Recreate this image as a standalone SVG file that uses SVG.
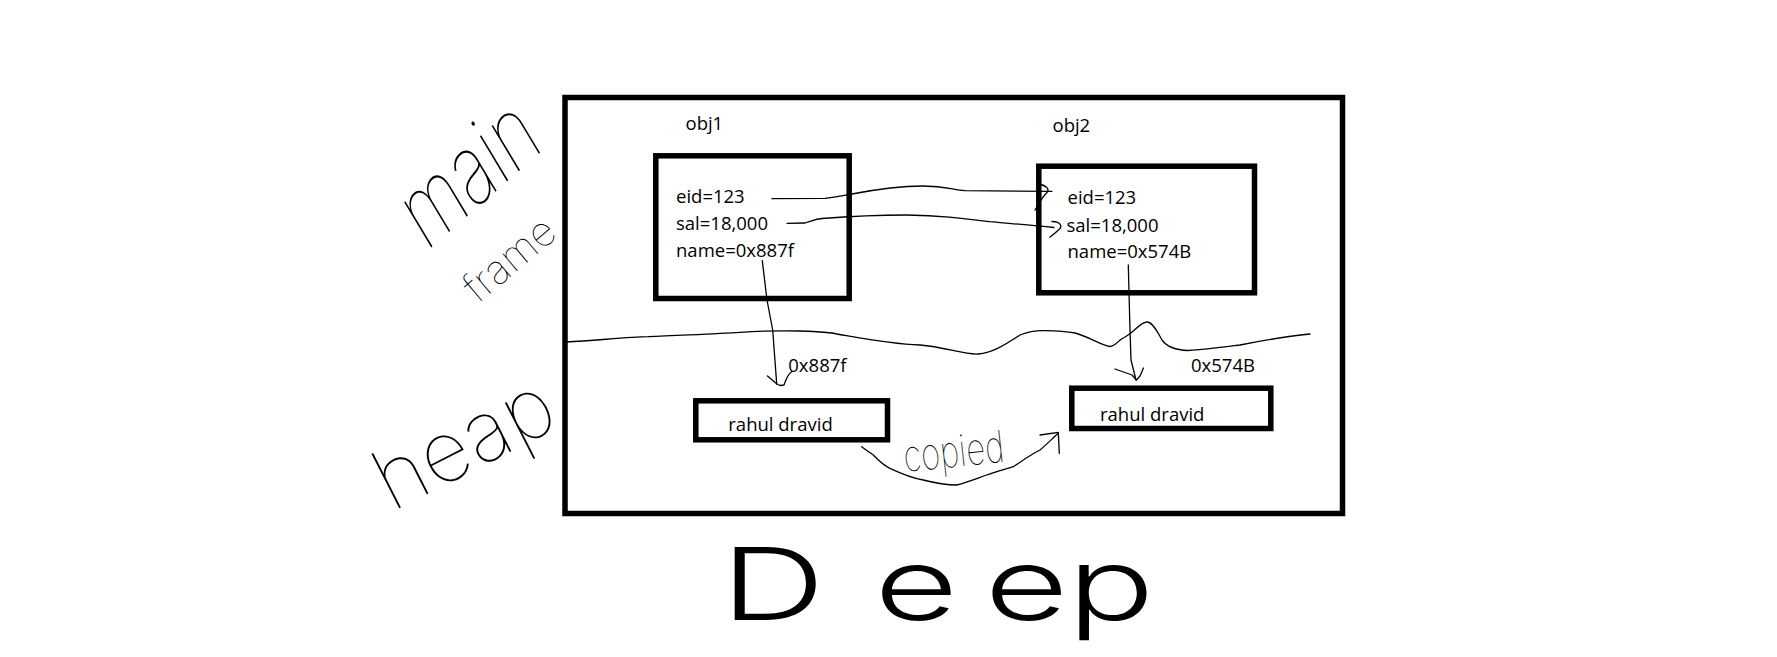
<svg xmlns="http://www.w3.org/2000/svg" width="1777" height="657" viewBox="0 0 1777 657">
<defs>
<style>
.box{fill:none;stroke:#000;stroke-width:5.5}
.t{font-family:"Open Sans","DejaVu Sans",sans-serif;font-size:18.5px;fill:#000}
.ln{fill:none;stroke:#000;stroke-width:1.3;stroke-linejoin:round;stroke-linecap:round}
.hand{font-family:Inter,"Noto Sans",sans-serif;font-weight:100;fill:#000}
</style>
</defs>
<rect width="1777" height="657" fill="#fff"/>

<g id="stack-frame">
<rect class="box" x="565" y="97.5" width="777.5" height="416"/>
</g>

<g id="divider">
<path class="ln" d="M566,342 C600,340 630,337 648,336.7 C680,335 715,334 740,332.3 C760,331 780,330.5 800,331 C815,331.5 830,332 837,334 C860,338 890,344 920,345 C945,347 965,355 978,354 C992,353 1005,345 1020,335 C1030,331 1038,330.5 1045,330.7 C1058,331 1066,331.5 1075,333 C1090,337 1100,345 1110,346.5 C1116,346 1118,340 1125,337 C1135,332 1140,322 1147,322 C1153,322 1158,333 1162,340 C1167,347 1175,350 1188,350.5 C1205,349.5 1220,347.5 1240,345 C1260,341 1280,337 1310,334"/>
</g>

<g id="label-main-frame">
<text class="hand" font-size="95" transform="translate(426,252) rotate(-41) skewX(-10) scale(0.76,1)">main</text>
<text class="hand" font-size="41" font-weight="200" transform="translate(478,304) rotate(-40)">frame</text>
</g>

<g id="label-heap">
<text class="hand" font-size="84" transform="translate(392,512) rotate(-27)">heap</text>
</g>

<g id="obj1">
<text class="t" x="685.5" y="130">obj1</text>
<rect class="box" x="655.8" y="155.8" width="193.4" height="142.7"/>
<text class="t" x="676" y="203.3">eid=123</text>
<text class="t" x="676" y="230">sal=18,000</text>
<text class="t" x="676" y="257.3">name=0x887f</text>
</g>

<g id="obj2">
<text class="t" x="1052.5" y="131.7">obj2</text>
<rect class="box" x="1038.8" y="166.2" width="215.7" height="126.6"/>
<text class="t" x="1067.5" y="204.3">eid=123</text>
<text class="t" x="1066.5" y="231.7">sal=18,000</text>
<text class="t" x="1067.5" y="258.3">name=0x574B</text>
</g>

<g id="heap-str1">
<text class="t" x="788.3" y="371.7">0x887f</text>
<rect class="box" x="695.8" y="400.8" width="191.7" height="39"/>
<text class="t" x="728.3" y="431">rahul dravid</text>
</g>

<g id="heap-str2">
<text class="t" x="1191" y="371.7">0x574B</text>
<rect class="box" x="1071.8" y="388.2" width="199" height="40.3"/>
<text class="t" x="1100" y="421">rahul dravid</text>
</g>

<g id="connectors">
<path class="ln" d="M772,198.7 L825,198.3 C838,197 845,195 852,194 C870,190.5 900,186 923,186 C945,186 952,189.5 965,190.7 L1052,191.3"/>
<path class="ln" d="M1036.5,183.5 C1046,185 1050,189 1047,192.5 C1043,196 1041,200 1035,210"/>
<path class="ln" d="M787,223.3 L805,223 C812,221 815,219 822,218.5 C850,216.3 880,215 907,215 C940,215.5 960,218 990,221.7 C1010,223.5 1030,225 1054,227.5"/>
<path class="ln" d="M1052,221.5 C1060,221.5 1063,226 1059,229.5 C1056,232 1054,234 1050,237"/>
<path class="ln" d="M762.3,260.7 L767,300 L772.7,330 L776.7,384"/>
<path class="ln" d="M767.5,376 L777,384 L780,385.5 L784,385 C786,379 788,374 792,371.5"/>
<path class="ln" d="M1128.3,265 L1130,330 L1131,360 L1136,380"/>
<path class="ln" d="M1115,369 L1132,375 L1136.5,380 L1140,376 L1143.5,368"/>
<path class="ln" d="M861.7,446.7 C866,450 869,452 873.3,455 C880,462 885,466 890,468.3 C902,474 912,478 923.3,480 C935,483 945,485 956.7,485 C968,482 978,478 986.7,475 C996,472 1005,469 1013.3,466.7 C1022,461 1030,455 1040,450 C1047,444 1053,438 1058.3,433.3"/>
<path class="ln" d="M1040,435 L1058.3,432.3 L1059.3,453.3"/>
</g>

<g id="label-copied">
<text class="hand" font-size="44" transform="translate(905,472) rotate(-6) scale(0.75,1)">copied</text>
</g>

<g id="title-deep">
<text font-family="Inter,'Noto Sans',sans-serif" font-weight="300" font-size="100" transform="scale(1.45,1)" x="497 603 679 736" y="620">Deep</text>
</g>
</svg>
